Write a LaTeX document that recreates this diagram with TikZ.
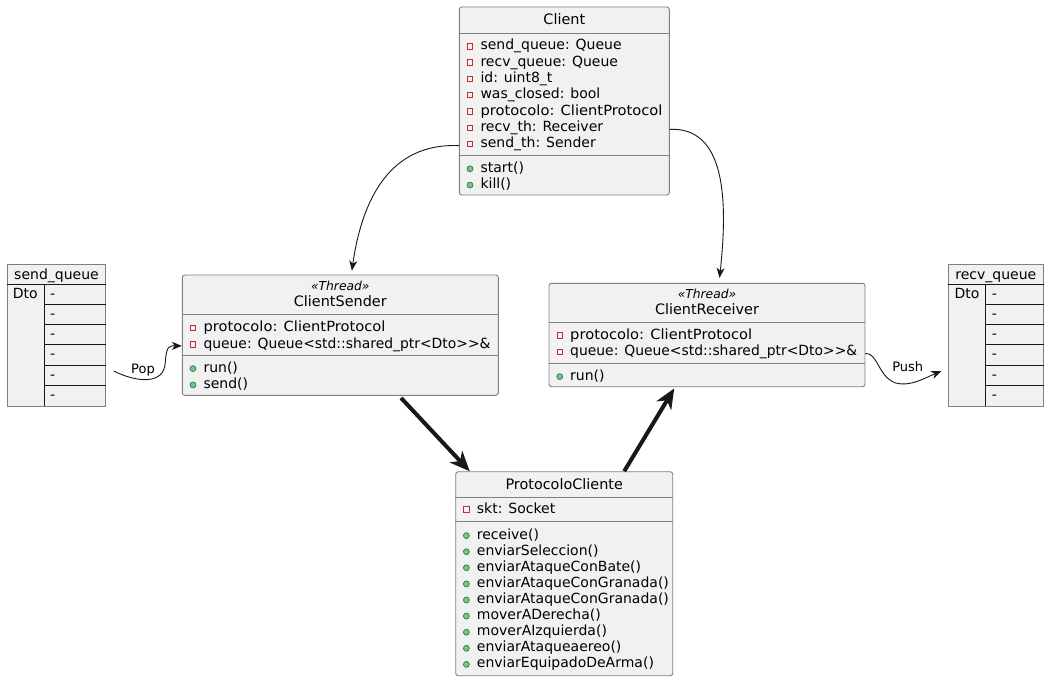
\documentclass[tikz,border=0pt]{standalone}
\usepackage{fontspec}
\usepackage{graphicx}
\newfontfamily\umlfont{DejaVu Sans}[ItalicFont={DejaVu Sans Oblique}]
\usetikzlibrary{arrows.meta}
\definecolor{boxfill}{HTML}{F1F1F1}
\definecolor{boxline}{HTML}{181818}
\definecolor{privred}{HTML}{C82930}
\definecolor{pubfill}{HTML}{84BE84}
\definecolor{publine}{HTML}{038048}

\tikzset{
  classbox/.style={draw=boxline!55, fill=boxfill, line width=0.9pt, rounded corners=2.5pt, inner sep=0pt},
  sepline/.style={draw=boxline!55, line width=0.9pt},
  member/.style={anchor=base west, inner sep=0pt, font=\umlfont\fontsize{14}{16}\selectfont},
  clstitle/.style={anchor=base, inner sep=0pt, font=\umlfont\fontsize{14.4}{16}\selectfont},
  stereo/.style={anchor=base, inner sep=0pt, font=\umlfont\itshape\fontsize{12.3}{14}\selectfont},
  tbltext/.style={anchor=base west, inner sep=0pt, font=\umlfont\fontsize{14}{16}\selectfont},
  tblbox/.style={draw=boxline!55, fill=boxfill, line width=0.9pt, inner sep=0pt},
  tblline/.style={draw=boxline, line width=1pt},
  privicon/.style={draw=privred, line width=0.9pt},
  pubicon/.style={fill=pubfill, draw=publine, line width=0.6pt},
  assoc/.style={draw=boxline, line width=0.9pt, -{Stealth[length=10pt,width=8pt,inset=3pt]}},
  heavy/.style={draw=boxline, line width=4pt, -{Stealth[length=20pt,width=17pt,inset=6pt]}},
  lbl/.style={anchor=base, inner sep=0pt, font=\umlfont\fontsize{13}{15}\selectfont},
}

% a private field: red square marker before the text
\newcommand{\fieldrow}[4]{%
  \node[member] (#1) at (#2,#3) {#4};
  \draw[privicon] ([shift={(-10.3,-3.7)}]#1.base west) ++(-2.7,-2.7) rectangle ++(5.4,5.4);}
% a public method: green dot marker before the text
\newcommand{\methodrow}[4]{%
  \node[member] (#1) at (#2,#3) {#4};
  \filldraw[pubicon] ([shift={(-10.3,-3.4)}]#1.base west) circle (3pt);}
% text stretched horizontally to a given width
\newcommand{\widetext}[2]{\resizebox{#1pt}{\height}{#2}}

\begin{document}
\begin{tikzpicture}[x=1pt,y=-1pt]
\fill[white] (0,0) rectangle (1049,682);
\useasboundingbox (0,0) rectangle (1049,682);

% ---------- Client ----------
\node[classbox, minimum width=210pt, minimum height=188pt] (client) at (564.3,101) {};
\node[clstitle] (clientT) at (564.3,25) {Client};
\draw[sepline] (client.west |- 0,33.3) -- (client.east |- 0,33.3);
\draw[sepline] (client.west |- 0,155) -- (client.east |- 0,155);
\fieldrow{cf1}{480.3}{50}{send\_queue: Queue}
\fieldrow{cf2}{480.3}{66.3}{recv\_queue: Queue}
\fieldrow{cf3}{480.3}{82.6}{id: uint8\_t}
\fieldrow{cf4}{480.3}{98.9}{was\_closed: bool}
\fieldrow{cf5}{480.3}{115.2}{\widetext{182}{protocolo: ClientProtocol}}
\fieldrow{cf6}{480.3}{131.5}{recv\_th: Receiver}
\fieldrow{cf7}{480.3}{147.8}{send\_th: Sender}
\methodrow{cm1}{480.3}{172.2}{start()}
\methodrow{cm2}{480.3}{188.5}{kill()}

% ---------- ClientSender ----------
\node[classbox, minimum width=316pt, minimum height=120.3pt] (sender) at (340.3,335.15) {};
\node[stereo] (senderS) at (340.3,290) {«Thread»};
\node[clstitle] (senderT) at (340.3,306) {ClientSender};
\draw[sepline] (sender.west |- 0,314) -- (sender.east |- 0,314);
\draw[sepline] (sender.west |- 0,355.7) -- (sender.east |- 0,355.7);
\fieldrow{sf1}{203.3}{331.7}{\widetext{182}{protocolo: ClientProtocol}}
\fieldrow{sf2}{203.3}{348}{\widetext{287}{queue: Queue<std::shared\_ptr<Dto>>\&}}
\methodrow{sm1}{203.3}{372}{run()}
\methodrow{sm2}{203.3}{388.3}{send()}

% ---------- ClientReceiver ----------
\node[classbox, minimum width=316pt, minimum height=103.4pt] (receiver) at (707,335) {};
\node[stereo] (receiverS) at (707,298.3) {«Thread»};
\node[clstitle] (receiverT) at (707,314) {ClientReceiver};
\draw[sepline] (receiver.west |- 0,322.7) -- (receiver.east |- 0,322.7);
\draw[sepline] (receiver.west |- 0,363.3) -- (receiver.east |- 0,363.3);
\fieldrow{rf1}{570}{339.3}{\widetext{182}{protocolo: ClientProtocol}}
\fieldrow{rf2}{570}{355.6}{\widetext{287}{queue: Queue<std::shared\_ptr<Dto>>\&}}
\methodrow{rm1}{570}{380}{run()}

% ---------- ProtocoloCliente ----------
\node[classbox, minimum width=217pt, minimum height=204pt] (proto) at (564.2,573.7) {};
\node[clstitle] (protoT) at (564.2,489) {ProtocoloCliente};
\draw[sepline] (proto.west |- 0,497.7) -- (proto.east |- 0,497.7);
\draw[sepline] (proto.west |- 0,521.7) -- (proto.east |- 0,521.7);
\fieldrow{pf1}{476.7}{513.3}{skt: Socket}
\methodrow{pm1}{476.7}{539}{receive()}
\methodrow{pm2}{476.7}{555.1}{enviarSeleccion()}
\methodrow{pm3}{476.7}{571.2}{enviarAtaqueConBate()}
\methodrow{pm4}{476.7}{587.3}{enviarAtaqueConGranada()}
\methodrow{pm5}{476.7}{603.4}{enviarAtaqueConGranada()}
\methodrow{pm6}{476.7}{619.5}{moverADerecha()}
\methodrow{pm7}{476.7}{635.6}{moverAIzquierda()}
\methodrow{pm8}{476.7}{651.7}{enviarAtaqueaereo()}
\methodrow{pm9}{476.7}{667.8}{enviarEquipadoDeArma()}

% ---------- send_queue table ----------
\node[tblbox, minimum width=98.4pt, minimum height=141.7pt] (sendq) at (56.5,335.15) {};
\draw[tblline] (sendq.west |- 0,284.3) -- (sendq.east |- 0,284.3);
\draw[tblline] (44.3,284.3) -- (44.3,406);
\foreach \yy in {304.3,324.3,344.7,365,385.3}
  \draw[tblline] (44.3,\yy) -- (sendq.east |- 0,\yy);
\node[tbltext, anchor=base] (sendqH) at (56.5,279) {send\_queue};
\node[tbltext] (sendqK) at (12.7,298.3) {Dto};
\foreach \yy [count=\i] in {298.3,318.3,338.5,358.8,379.2,399.7}
  \node[tbltext] (sendqV\i) at (50,\yy) {-};

% ---------- recv_queue table ----------
\node[tblbox, minimum width=95pt, minimum height=141.7pt] (recvq) at (995.8,335.15) {};
\draw[tblline] (recvq.west |- 0,284.3) -- (recvq.east |- 0,284.3);
\draw[tblline] (985.3,284.3) -- (985.3,406);
\foreach \yy in {304.3,324.3,344.7,365,385.3}
  \draw[tblline] (985.3,\yy) -- (recvq.east |- 0,\yy);
\node[tbltext, anchor=base] (recvqH) at (995.8,279) {recv\_queue};
\node[tbltext] (recvqK) at (954.3,298.3) {Dto};
\foreach \yy [count=\i] in {298.3,318.3,338.5,358.8,379.2,399.7}
  \node[tbltext] (recvqV\i) at (991.7,\yy) {-};

% ---------- connectors ----------
\draw[assoc, shorten >=4pt] (client.west |- cf7.mid)
  .. controls +(-69,-3) and +(10.7,-75) .. ([xshift=11pt]sender.north);
\draw[assoc, shorten >=5pt] (client.east |- cf6.mid)
  .. controls +(55.7,-2.5) and +(9,-83.3) .. ([xshift=12pt]receiver.north);

\draw[assoc] ([shift={(7.5,35.8)}]sendq.east)
  .. controls +(21.7,11) and +(-1,24) .. ++(51.7,-9)
  .. controls +(1,-17) and +(-12,0) .. (sender.west |- sf2.mid);
\node[lbl] (popL) at (143,373.3) {Pop};

\draw[assoc] (receiver.east |- rf2.mid)
  .. controls +(12,-1) and +(-17,-6) .. ++(30,29.5)
  .. controls +(15,4) and +(-17,7) .. ([shift={(-6.5,36)}]recvq.west);
\node[lbl] (pushL) at (907.7,371.7) {Push};

\draw[heavy, shorten <=3pt] ([xshift=58.7pt]sender.south) -- ([xshift=-94.5pt]proto.north);
\draw[heavy, shorten >=1.5pt] ([xshift=60pt]proto.north) -- ([xshift=-32pt]receiver.south);
\end{tikzpicture}
\end{document}
